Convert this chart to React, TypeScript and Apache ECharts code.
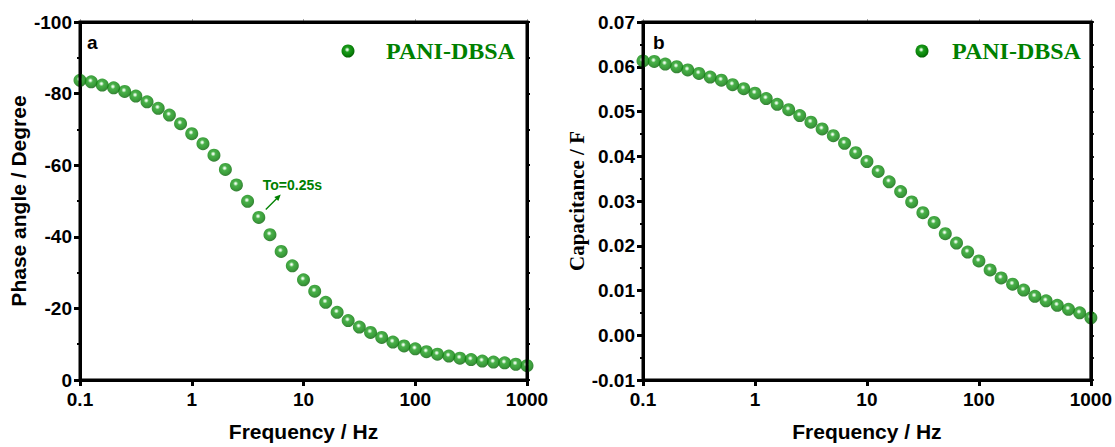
import React, { useEffect, useRef } from "react";
import * as echarts from "echarts";

const frequency = [
  0.1, 0.126, 0.158, 0.2, 0.251, 0.316, 0.398, 0.501, 0.631, 0.794,
  1, 1.26, 1.58, 2, 2.51, 3.16, 3.98, 5.01, 6.31, 7.94,
  10, 12.6, 15.8, 20, 25.1, 31.6, 39.8, 50.1, 63.1, 79.4,
  100, 126, 158, 200, 251, 316, 398, 501, 631, 794, 1000,
];

const phaseAngle = [
  -83.7, -83.3, -82.4, -81.6, -80.6, -79.3, -77.7, -75.9, -74.0, -71.6,
  -68.8, -66.0, -62.8, -58.8, -54.5, -49.9, -45.4, -40.6, -35.9, -31.9,
  -28.0, -24.8, -21.7, -18.9, -16.6, -14.8, -13.3, -11.9, -10.6, -9.5,
  -8.7, -7.9, -7.2, -6.7, -6.1, -5.7, -5.3, -5.0, -4.8, -4.4, -4.0,
];

const capacitance = [
  0.0613, 0.0612, 0.0606, 0.06, 0.0593, 0.0585, 0.0577, 0.057, 0.056, 0.0551,
  0.0541, 0.0529, 0.0516, 0.0504, 0.0491, 0.0476, 0.0461, 0.0446, 0.0429, 0.0408,
  0.0388, 0.0366, 0.0343, 0.0321, 0.0298, 0.0274, 0.0252, 0.0227, 0.0206, 0.0186,
  0.0166, 0.0146, 0.0128, 0.0114, 0.0101, 0.0087, 0.0077, 0.0067, 0.0058, 0.005, 0.0039,
];

const freqRange = [0.1, 1000];
const phaseRange = [-100, 0];
const capRange = [-0.01, 0.07];

const seriesName = "PANI-DBSA";
const annotationText = "To=0.25s";
const annotationFreq = 3.98;
const annotationPhase = -45.4;

const SANS = "Liberation Sans, Arial, sans-serif";
const SERIF = "Liberation Serif, Times New Roman, serif";
const GREEN = "#008000";

function ballFill() {
  return new echarts.graphic.RadialGradient(0.44, 0.4, 0.6, [
    { offset: 0, color: "#ffffff" },
    { offset: 0.12, color: "#c8efc8" },
    { offset: 0.32, color: "#1c9c1c" },
    { offset: 0.72, color: "#0a850a" },
    { offset: 1, color: "#045f04" },
  ]);
}

function panelAxes(gridIndex: number, yCfg: any) {
  const xMain = {
    type: "log",
    gridIndex,
    min: freqRange[0],
    max: freqRange[1],
    axisLine: { show: true, onZero: false, lineStyle: { color: "#000", width: 3 } },
    axisTick: { length: 6, lineStyle: { width: 3, color: "#000" } },
    axisLabel: {
      margin: 10,
      color: "#000",
      fontFamily: SANS,
      fontWeight: "bold",
      fontSize: 19,
      formatter: (v: number) => String(v),
    },
    splitLine: { show: true, lineStyle: { color: "rgba(255,255,255,0)", width: 0 } },
    name: "Frequency / Hz",
    nameLocation: "middle",
    nameGap: 41,
    nameTextStyle: { color: "#000", fontFamily: SANS, fontWeight: "bold", fontSize: 21 },
  };
  const xMirror = {
    type: "log",
    gridIndex,
    min: freqRange[0],
    max: freqRange[1],
    position: "top",
    axisLine: { show: true, onZero: false, lineStyle: { color: "#000", width: 3 } },
    axisTick: { length: 3, lineStyle: { width: 1, color: "#aaa" } },
    axisLabel: { show: false },
    splitLine: { show: false },
  };
  const yMain = {
    type: "value",
    gridIndex,
    min: yCfg.min,
    max: yCfg.max,
    interval: yCfg.interval,
    inverse: yCfg.inverse,
    axisLine: { show: true, onZero: false, lineStyle: { color: "#000", width: 3 } },
    axisTick: { show: true, length: 6, lineStyle: { width: 3, color: "#000" } },
    minorTick: { show: true, splitNumber: 2, length: 3, lineStyle: { width: 2, color: "#000" } },
    axisLabel: {
      margin: 8,
      color: "#000",
      fontFamily: SANS,
      fontWeight: "bold",
      fontSize: 19,
      formatter: yCfg.formatter,
    },
    splitLine: { show: true, lineStyle: { color: "rgba(255,255,255,0)", width: 0 } },
    name: yCfg.name,
    nameLocation: "middle",
    nameGap: yCfg.nameGap,
    nameTextStyle: { color: "#000", fontFamily: yCfg.nameFont, fontWeight: "bold", fontSize: 21 },
  };
  const yMirror = {
    type: "value",
    gridIndex,
    position: "right",
    min: yCfg.min,
    max: yCfg.max,
    interval: yCfg.interval,
    inverse: yCfg.inverse,
    axisLine: { show: true, onZero: false, lineStyle: { color: "#000", width: 3 } },
    axisTick: { show: true, length: 3, lineStyle: { width: 2, color: "#000" } },
    minorTick: { show: true, splitNumber: 2, length: 3, lineStyle: { width: 2, color: "#000" } },
    axisLabel: { show: false },
    splitLine: { show: false },
  };
  return { x: [xMain, xMirror], y: [yMain, yMirror] };
}

function frameSeries(xAxisIndex: number, yAxisIndex: number, yr: number[]) {
  return {
    type: "line",
    xAxisIndex,
    yAxisIndex,
    data: [
      [freqRange[0], yr[0]],
      [freqRange[1], yr[0]],
      [freqRange[1], yr[1]],
      [freqRange[0], yr[1]],
      [freqRange[0], yr[0]],
    ],
    symbol: "none",
    showSymbol: false,
    silent: true,
    clip: false,
    lineStyle: { color: "#000", width: 3, cap: "square", join: "miter" },
    z: 5,
  };
}

export default function App() {
  const ref = useRef<HTMLDivElement>(null);

  useEffect(() => {
    if (!ref.current) return;
    const chart = echarts.init(ref.current, undefined, { renderer: "svg" });

    const left = panelAxes(0, {
      min: phaseRange[0],
      max: phaseRange[1],
      interval: 20,
      inverse: true,
      formatter: (v: number) => String(v),
      name: "Phase angle / Degree",
      nameGap: 51,
      nameFont: SANS,
    });
    const right = panelAxes(1, {
      min: capRange[0],
      max: capRange[1],
      interval: 0.01,
      inverse: false,
      formatter: (v: number) => v.toFixed(2),
      name: "Capacitance / F",
      nameGap: 54,
      nameFont: SERIF,
    });

    const phaseData = frequency.map((f, i) => [f, phaseAngle[i]]);
    const capData = frequency.map((f, i) => [f, capacitance[i]]);

    chart.setOption({
      animation: false,
      grid: [
        { left: 80, top: 22, width: 447, height: 363 },
        { left: 643, top: 22, width: 449, height: 364 },
      ],
      xAxis: [...left.x, ...right.x],
      yAxis: [...left.y, ...right.y],
      series: [
        frameSeries(0, 0, phaseRange),
        frameSeries(2, 2, capRange),
        {
          type: "scatter",
          name: seriesName,
          xAxisIndex: 0,
          yAxisIndex: 0,
          data: phaseData,
          symbol: "circle",
          symbolSize: 13,
          itemStyle: { color: ballFill() },
          z: 3,
        },
        {
          type: "scatter",
          name: seriesName,
          xAxisIndex: 2,
          yAxisIndex: 2,
          data: capData,
          symbol: "circle",
          symbolSize: 13,
          itemStyle: { color: ballFill() },
          z: 3,
        },
      ],
    });

    const p = chart.convertToPixel({ gridIndex: 0 }, [annotationFreq, annotationPhase]) as number[];
    const ax = p[0];
    const ay = p[1];

    const legend = (ballX: number, textX: number) => [
      { type: "circle", shape: { cx: ballX, cy: 51, r: 6.5 }, style: { fill: ballFill() }, z: 10 },
      {
        type: "text",
        x: textX,
        y: 51,
        style: {
          text: seriesName,
          fill: GREEN,
          font: `bold 24px ${SERIF}`,
          verticalAlign: "middle",
        },
        z: 10,
      },
    ];

    chart.setOption({
      graphic: [
        ...legend(348, 386),
        ...legend(922, 952),
        {
          type: "text",
          x: 87,
          y: 42,
          style: { text: "a", fill: "#000", font: `bold 19px ${SANS}`, verticalAlign: "middle" },
        },
        {
          type: "text",
          x: 653,
          y: 42,
          style: { text: "b", fill: "#000", font: `bold 19px ${SANS}`, verticalAlign: "middle" },
        },
        {
          type: "line",
          shape: { x1: ax + 7, y1: ay - 8, x2: ax + 20, y2: ay - 21 },
          style: { stroke: GREEN, lineWidth: 1.3 },
          z: 10,
        },
        {
          type: "polygon",
          shape: {
            points: [
              [ax + 22, ay - 23],
              [ax + 15.5, ay - 20.5],
              [ax + 19.5, ay - 16.5],
            ],
          },
          style: { fill: GREEN },
          z: 10,
        },
        {
          type: "text",
          x: ax + 4,
          y: ay - 32,
          style: {
            text: annotationText,
            fill: GREEN,
            font: `bold 14px ${SANS}`,
            verticalAlign: "middle",
          },
          z: 10,
        },
      ],
    });

    return () => chart.dispose();
  }, []);

  return (
    <div
      ref={ref}
      style={{ position: "fixed", left: 0, top: 0, width: 1115, height: 447, background: "#fff" }}
    />
  );
}
